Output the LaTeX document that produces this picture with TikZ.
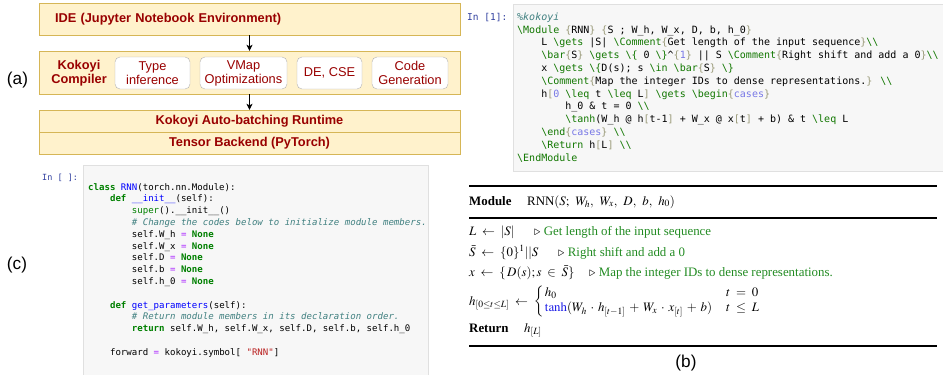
\documentclass[tikz,border=0pt]{standalone}
\usepackage{mathptmx}
\usepackage{fontspec}
\setmainfont{Liberation Serif}
\setsansfont{Liberation Sans}
\newfontfamily\codefont{DejaVu Sans Mono}
\usetikzlibrary{arrows.meta, positioning}

\definecolor{kokored}{RGB}{153, 0, 0}
\definecolor{layerfill}{RGB}{255, 242, 204}
\definecolor{layerdraw}{RGB}{214, 182, 86}
\definecolor{cellbg}{RGB}{247, 247, 247}
\definecolor{cellline}{RGB}{224, 224, 224}
\definecolor{promptblue}{RGB}{48, 63, 159}
\definecolor{tagclr}{RGB}{17, 119, 0}
\definecolor{brclr}{RGB}{153, 153, 119}
\definecolor{atomclr}{RGB}{120, 120, 230}
\definecolor{pycmt}{RGB}{64, 128, 128}
\definecolor{pykw}{RGB}{0, 128, 0}
\definecolor{pydef}{RGB}{0, 0, 255}
\definecolor{pyop}{RGB}{170, 34, 255}
\definecolor{pystr}{RGB}{186, 33, 33}
\definecolor{algcmt}{RGB}{34, 139, 34}
\definecolor{tanhblue}{RGB}{30, 30, 230}

% code cell helpers
\newcommand{\cind}{\phantom{0000}}
\newcommand{\kcmd}[1]{\textcolor{tagclr}{\textbackslash #1}}
\newcommand{\kbr}[1]{\textcolor{brclr}{\{}#1\textcolor{brclr}{\}}}
\newcommand{\ksq}[1]{\textcolor{brclr}{[}#1\textcolor{brclr}{]}}
\newcommand{\katom}[1]{\textcolor{atomclr}{#1}}
\newcommand{\knl}{\textcolor{tagclr}{\textbackslash\textbackslash}}
\newcommand{\pkw}[1]{\textcolor{pykw}{\bfseries #1}}
\newcommand{\pbi}[1]{\textcolor{pykw}{#1}}
\newcommand{\pdef}[1]{\textcolor{pydef}{#1}}
\newcommand{\pop}[1]{\textcolor{pyop}{#1}}
\newcommand{\pstr}[1]{\textcolor{pystr}{#1}}
\newcommand{\pcmt}[1]{\textcolor{pycmt}{\itshape #1}}
% wider math spacing for the algorithm block
\newcommand{\algspacing}{\thickmuskip=8mu\relax\medmuskip=5.3mu\relax}

\begin{document}
\begin{tikzpicture}[x=1pt, y=-1pt,
  layer/.style={draw=layerdraw, fill=layerfill, minimum width=421pt, inner sep=0pt, font=\sffamily\bfseries\fontsize{12.8}{15}\selectfont, text=kokored},
  pass/.style={draw=black!30, fill=white, rounded corners=5pt, minimum height=32pt, inner sep=0pt, align=center, font=\sffamily\fontsize{12.8}{14}\selectfont, text=kokored},
  flow/.style={-{Stealth[length=6pt, width=6pt, inset=1.5pt]}, line width=0.9pt},
  cell/.style={draw=cellline, fill=cellbg},
  prompt/.style={inner sep=0pt, anchor=base west, text=promptblue},
  code/.style={align=left, inner sep=0pt, anchor=north west},
  alg/.style={font=\fontsize{12.9}{15}\selectfont, execute at begin node=\algspacing, inner sep=0pt, anchor=base west},
  bookrule/.style={line width=2.6pt},
  panel/.style={font=\sffamily\fontsize{17.2}{20}\selectfont, inner sep=0pt}
]
  \useasboundingbox (0,0) rectangle (943,375);

  % (a) stack
  \node[layer, minimum height=32pt, text width=389pt, inner xsep=16pt, align=left] (ide) at (249.5,19) {IDE (Jupyter Notebook Environment)};
  \node[layer, minimum height=43pt] (comp) at (249.5,72.5) {};
  \node[align=center, inner sep=0pt, font=\sffamily\bfseries\fontsize{12.8}{14}\selectfont, text=kokored] (complabel) at (79,73) {Kokoyi\\Compiler};
  \node[pass, minimum width=75pt] (typeinf) at (152.5,73) {Type\\inference};
  \node[pass, minimum width=87pt] (vmap) at (243.5,73) {VMap\\Optimizations};
  \node[pass, minimum width=65pt] (decse) at (329.5,73) {DE, CSE};
  \node[pass, minimum width=76pt] (codegen) at (410,73) {Code\\Generation};
  \node[layer, minimum height=22pt] (runtime) at (249.5,121) {Kokoyi Auto-batching Runtime};
  \node[layer, minimum height=22pt, below=0pt of runtime] (backend) {Tensor Backend (PyTorch)};
  \draw[flow] (ide) -- (comp);
  \draw[flow] (comp) -- (runtime);

  \node[panel] (labela) at (17.5,80) {(a)};
  \node[panel] (labelb) at (686,363) {(b)};
  \node[panel] (labelc) at (17,265) {(c)};

  % top cell: kokoyi source
  \draw[cell] (513,4) rectangle (945,171);
  \node[prompt, font=\codefont\fontsize{9.5}{12}\selectfont] (inone) at (467,20) {In [1]:};
  \node[code, font=\codefont\fontsize{10}{12.8}\selectfont] (kcode) at (517,12.5) {%
    \textcolor{pycmt}{\itshape\%kokoyi}\\
    \kcmd{Module} \kbr{RNN} \kbr{S ; W\_h, W\_x, D, b, h\_0}\\
    \cind L \kcmd{gets} |S| \kcmd{Comment}\kbr{Get length of the input sequence}\knl\\
    \cind\kcmd{bar}\kbr{S} \kcmd{gets} \kcmd{\{} 0 \kcmd{\}}\textasciicircum\kbr{\katom{1}} || S \kcmd{Comment}\kbr{Right shift and add a 0}\knl\\
    \cind x \kcmd{gets} \kcmd{\{}D(s); s \kcmd{in} \kcmd{bar}\kbr{S} \kcmd{\}}\\
    \cind\kcmd{Comment}\kbr{Map the integer IDs to dense representations.} \knl\\
    \cind h\ksq{\katom{0} \kcmd{leq} t \kcmd{leq} L} \kcmd{gets} \kcmd{begin}\kbr{\katom{cases}}\\
    \cind\cind h\_0 \& t = 0 \knl\\
    \cind\cind\kcmd{tanh}(W\_h @ h\ksq{t-1} + W\_x @ x\ksq{t} + b) \& t \kcmd{leq} L\\
    \cind\kcmd{end}\kbr{\katom{cases}} \knl\\
    \cind\kcmd{Return} h\ksq{L} \knl\\
    \kcmd{EndModule}};

  % bottom cell: python wrapper
  \draw[cell] (83,165) rectangle (428,380);
  \node[prompt, font=\codefont\fontsize{8.5}{11}\selectfont] (inempty) at (42,180) {In [ ]:};
  \node[code, font=\codefont\fontsize{9.07}{11.8}\selectfont] (pycode) at (88,183) {%
    \pkw{class} \pdef{RNN}(torch.nn.Module):\\
    \cind\pkw{def} \pdef{\_\_init\_\_}(self):\\
    \cind\cind\pbi{super}().\_\_init\_\_()\\
    \cind\cind\pcmt{\# Change the codes below to initialize module members.}\\
    \cind\cind self.W\_h \pop{=} \pkw{None}\\
    \cind\cind self.W\_x \pop{=} \pkw{None}\\
    \cind\cind self.D \pop{=} \pkw{None}\\
    \cind\cind self.b \pop{=} \pkw{None}\\
    \cind\cind self.h\_0 \pop{=} \pkw{None}\\[11.8pt]
    \cind\pkw{def} \pdef{get\_parameters}(self):\\
    \cind\cind\pcmt{\# Return module members in its declaration order.}\\
    \cind\cind\pkw{return} self.W\_h, self.W\_x, self.D, self.b, self.h\_0\\[11.8pt]
    \cind forward \pop{=} kokoyi.symbol[ \pstr{"RNN"}]};

  % (b) typeset algorithm
  \draw[bookrule] (469,186) -- (937,186);
  \draw[bookrule] (469,218) -- (937,218);
  \draw[bookrule] (469,346) -- (937,346);
  \node[alg] (modkw) at (469,205) {\textbf{Module}};
  \node[alg] (modsig) at (527,205) {RNN$(S;\hspace{4.5pt} W_h,\hspace{4.5pt} W_x,\hspace{4.5pt} D,\hspace{4.5pt} b,\hspace{4.5pt} h_0)$};
  \node[alg] (stepL) at (469,235) {$L \gets |S|$};
  \node[alg] (cmtL) at (534,235) {$\triangleright$ \textcolor{algcmt}{Get length of the input sequence}};
  \node[alg] (stepS) at (469,256) {$\bar S \gets \{0\}^1||S$};
  \node[alg] (cmtS) at (558,256) {$\triangleright$ \textcolor{algcmt}{Right shift and add a 0}};
  \node[alg] (stepx) at (469,276) {$x \gets \{\,D(s); s \in \bar S\}$};
  \node[alg] (cmtx) at (589,276) {$\triangleright$ \textcolor{algcmt}{Map the integer IDs to dense representations.}};
  \node[alg] (steph) at (469,305) {$h_{[0\le t\le L]} \gets \left\{\begin{array}{@{\,}l@{\hspace{14pt}}l}
      h_0 & t = 0\\
      \textcolor{tanhblue}{\tanh}(W_h\cdot h_{[t-1]} + W_x\cdot x_{[t]} + b) & t \le L
    \end{array}\right.$};
  \node[alg] (ret) at (469,332) {\textbf{Return}};
  \node[alg] (retval) at (524,332) {$h_{[L]}$};
\end{tikzpicture}
\end{document}
